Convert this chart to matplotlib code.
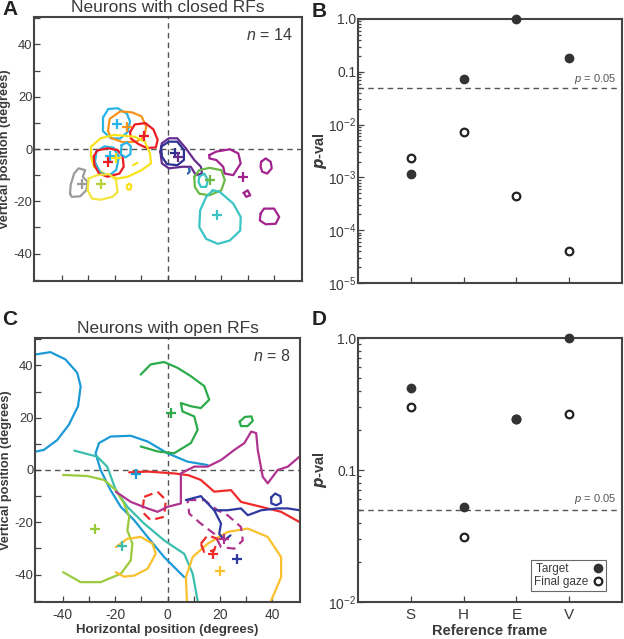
import matplotlib
matplotlib.use("Agg")
import matplotlib.pyplot as plt
from matplotlib.ticker import MultipleLocator, NullFormatter, LogLocator

plt.rcParams['font.family'] = ['Liberation Sans', 'DejaVu Sans']
plt.rcParams['mathtext.fontset'] = 'custom'
plt.rcParams['mathtext.rm'] = 'Liberation Sans'
plt.rcParams['mathtext.it'] = 'Liberation Sans:italic'
plt.rcParams['mathtext.bf'] = 'Liberation Sans:bold'

TXT = '#3a3a3a'
SP = '#444444'

# ---------------- data: panel A (closed RFs) ----------------
a_cyan_top = [(-24.5, 12), (-22.5, 15.3), (-19, 15.6), (-15.5, 13.5), (-14.3, 10.5), (-15.2, 6.5), (-18, 4), (-21.5, 4.1), (-24.5, 6.8), (-24.5, 12)]
a_orange = [(-22.6, 7), (-22, 11.5), (-18, 14.4), (-13.5, 14), (-10, 12.5), (-8.2, 8.6), (-9, 4.5), (-12, 2.8), (-17, 2.6), (-21.5, 4.2), (-22.6, 7)]
a_red_top = [(-14.3, 6.5), (-12.5, 9.4), (-8.5, 9.9), (-5.5, 7.5), (-3.9, 3.5), (-4.6, 0.6), (-8, 0.4), (-11, 1.8), (-14, 4), (-14.3, 6.5)]
a_yellow_big = [(-29, 0.9), (-25.4, 4.1), (-20.3, 5.4), (-12.6, 4.7), (-8.7, 2.8), (-6.8, -1.7), (-6.4, -5.5), (-10, -8.1), (-15.1, -10.6), (-19, -11.3), (-24.1, -9.4), (-27.9, -6.8), (-29, -2.9), (-29, 0.9)]
a_yellow_dash = [(-13.2, -6.2), (-11.5, -5.3)]
a_yellow_small = [(-15.5, -14), (-14.5, -13.2), (-13.8, -14), (-14.2, -15.6), (-15.3, -15.4), (-15.5, -14)]
a_red_low = [(-28, -2.9), (-26.7, -0.6), (-22.8, 0.3), (-19, -0.4), (-17.1, -2.9), (-16.7, -6.8), (-18.3, -9.4), (-22.8, -10.6), (-26, -9.4), (-27.7, -6.2), (-28, -2.9)]
a_cyan_low = [(-27, -1), (-24, 1), (-20.5, 0.5), (-18.5, -3), (-19.5, -8), (-22, -10), (-25.5, -9.2), (-27.5, -5), (-27, -1)]
a_cyan_mid = [(-17.5, 1.5), (-15.5, 2.5), (-14, 1), (-14.2, -2), (-16, -3.2), (-17.8, -2), (-17.5, 1.5)]
a_gray = [(-36.9, -17.1), (-36.7, -13.8), (-35.4, -9.4), (-33.7, -7.4), (-31.2, -8.1), (-32.1, -10.6), (-30.3, -12.6), (-30.8, -15.8), (-33.1, -18.1), (-36.3, -18.3), (-36.9, -17.1)]
a_yellow_low = [(-29.9, -11.3), (-26.7, -10), (-22.2, -9.6), (-19.6, -11.9), (-19, -16.4), (-20.9, -18.3), (-25.4, -19.4), (-28.6, -19), (-30.3, -15.8), (-29.9, -11.3)]
a_navy = [(-2.6, 0.9), (0.3, 2.8), (3.5, 2.8), (6, -0.4), (6, -4.2), (3.5, -6.2), (-0.4, -5.8), (-2.3, -2.9), (-2.6, 0.9)]
a_purple = [(-2.9, -1), (-2.3, 2.2), (0.3, 4.1), (3.5, 4.1), (6.7, 0.3), (9.9, -4.2), (12.4, -6.8), (12.8, -9.4), (10.5, -10), (8.6, -6.8), (5.4, -6.8), (0.3, -7.4), (-2.3, -5.5), (-2.9, -1)]
a_blue_dash = [(7.9, -7.4), (8.2, -8.5), (7.5, -9.4)]
a_green = [(9.9, -10.6), (11.8, -8.1), (15.6, -7.2), (20.1, -8.1), (21.4, -11.9), (20.1, -15.8), (15.6, -17.7), (11.8, -17.1), (10.1, -14.5), (9.9, -10.6)]
a_cyan_right = [(11.8, -10.6), (13.7, -9.4), (15, -11.9), (14.4, -14.5), (12.4, -14.5), (11.5, -12.6), (11.8, -10.6)]
a_teal = [(16.9, -15.8), (19.5, -16.4), (24.6, -20.9), (27.4, -26), (27.2, -31.2), (23.3, -35), (18.8, -36.3), (14.4, -34.4), (11.8, -29.9), (12.1, -23.5), (14.4, -18.3), (16.9, -15.8)]
a_mag1 = [(15.6, -2.3), (18.2, -1), (23.3, -0.1), (26.5, -1.7), (27.4, -5.5), (24.6, -10), (21.4, -9.4), (20.8, -6.8), (18.2, -4.2), (15.6, -3.6), (15.6, -2.3)]
a_mag2 = [(35.1, -4.9), (36.8, -3.6), (38.7, -4.9), (39.1, -7.4), (37.4, -9.4), (35.5, -8.7), (34.9, -6.8), (35.1, -4.9)]
a_mag3 = [(28.5, -16.8), (30, -15.8), (31, -17.7), (29.5, -18.3), (28.5, -16.8)]
a_mag4 = [(34.9, -24.7), (36.2, -22.8), (40, -22.8), (41.9, -26), (40.6, -28.6), (36.8, -28.8), (34.6, -27.3), (34.9, -24.7)]

a_cross_x = [-19.2, -15.5, -9.2, -21.8, -22.6, -19.5, -32.4, -25.4, 2.6, 3.8, 15.9, 18.6, 28.2]
a_cross_y = [9.6, 8.6, 5.0, -2.7, -5.1, -3.5, -13.2, -13.2, -1.7, -2.9, -11.9, -25.4, -10.6]

# ---------------- data: panel C (open RFs) ----------------
c_blue1 = [(-50.3, 44.2), (-44.6, 45.1), (-38.9, 42.3), (-34.4, 37.2), (-33.1, 32), (-34.1, 24.4), (-37.6, 17.3), (-42, 11.5), (-47.1, 7.7), (-49.9, 7.1)]
c_blue2 = [(15.3, 1.9), (7.6, 3.2), (0, 6.4), (-7.6, 10.9), (-14, 13.1), (-21.7, 12.8), (-26.1, 10.3), (-27.4, 6.4), (-25.5, 0), (-21.7, -7.7), (-17.8, -14.1), (-12.7, -19.2), (-7.6, -25.6), (-1.3, -33.3), (6.4, -41)]
c_teal = [(-35.5, 7.4), (-26.8, 5.1), (-23, 1.3), (-19.7, -7.7), (-15.3, -14.1), (-8.9, -20.5), (-1.3, -26.9), (6.4, -32.1), (9.6, -39.7), (11.5, -50)]
c_green = [(-10.2, 36.5), (-6.4, 40.4), (-1.3, 41.3), (3.8, 39.1), (8.9, 35.9), (14, 32.1), (15.9, 26.9), (12.7, 23.7), (8.9, 24.4), (5.1, 25.6), (5.7, 22.4), (10.2, 20.5), (11.5, 15.4), (8.9, 10.3), (2.5, 6.4), (-3.8, 7.1), (-10.2, 9)]
c_green_loop = [(27.5, 18.5), (29.5, 20.3), (32, 20.5), (32.5, 18.8), (30.5, 16.8), (28, 16.8), (27.5, 18.5)]
c_ygreen = [(-39.8, -1.9), (-30.6, -2.3), (-24.2, -3.8), (-19.7, -7.7), (-16.6, -12.8), (-14.6, -17.9), (-15.3, -23.1), (-13.4, -28.2), (-14, -34.6), (-17.8, -39.7), (-25.5, -42.9), (-33.1, -42.9), (-39.8, -39.1)]
c_orange1 = [(-19.7, -29.5), (-15.3, -26.3), (-10.2, -25.6), (-5.7, -28.2), (-4.5, -32.1), (-7.6, -37.8), (-12.7, -40.4), (-16.6, -40.8), (-19.7, -39.1)]
c_orange2 = [(7.4, -50), (7, -41), (9.6, -33.3), (15.3, -28.2), (22.9, -23.7), (30.6, -22.4), (38.2, -25.6), (43.3, -33.3), (43.3, -41), (39.5, -50)]
c_red = [(-14.6, -0.9), (-7.6, -0.6), (2.5, -1.3), (8, -2), (12.7, -3.8), (17.8, -8.3), (24.2, -7.7), (28, -12.2), (35.7, -14.1), (43.3, -16), (50.3, -19.9)]
c_red_dash1 = [(-8.9, -10.3), (-3.8, -8.3), (-0.6, -11.5), (-1.3, -17.9), (-6.4, -19.2), (-9.6, -16), (-8.9, -10.3)]
c_red_dash2 = [(12.7, -28.2), (15.3, -25), (19.1, -26.3), (17.8, -30.8), (14, -31.4), (12.7, -28.2)]
c_mag = [(-19.7, -8.3), (-14, -12.2), (-7.6, -14.7), (-3.8, -16), (0, -14.1), (5.1, -12.8), (5.1, -1.3), (10.2, 1.3), (15.3, 1.3), (20.4, 3.8), (25.5, 7.7), (29.3, 10.3), (31.9, 14.7), (33.8, 14.1), (34.4, 7.7), (36.3, -2.6), (38.2, -5.1), (42, 0), (45.9, 1.3), (50.3, 5.1)]
c_mag_dash = [(7.6, -11.5), (14, -11.5), (19.1, -15.4), (22.9, -17.3), (28, -21.8), (28.7, -26.9), (25.5, -30.1), (20.4, -29.5), (17.8, -24.4), (12.7, -20.5), (8.3, -16.7), (7.6, -11.5)]
c_navy = [(7, -11.5), (12.7, -10), (17.8, -15.4), (22.9, -15.4), (28, -14.7), (30.6, -17.3), (35.7, -15.4), (42, -14.7), (45.9, -14.7), (50.3, -15.4)]
c_navy_b = [(17.8, -15.4), (20.4, -20.5), (19.7, -24.4), (21.7, -26.9), (24, -25)]
c_navy_loop = [(39.5, -10.5), (41, -9), (43, -10), (43.3, -12.5), (41.5, -13.5), (39.6, -12.8), (39.5, -10.5)]

c_cross_x = [-11.9, 1.3, -27.6, -17.5, 20.0, 17.2, 21.7, 26.5]
c_cross_y = [-1.5, 21.8, -22.4, -29.1, -38.7, -32.1, -26.3, -34.0]

# ---------------- data: panels B, D ----------------
frames = ['S', 'H', 'E', 'V']
b_target = [1.16e-3, 0.074, 1.0, 0.183]
b_gaze = [2.35e-3, 7.1e-3, 4.4e-4, 4.1e-5]
d_target = [0.42, 0.052, 0.245, 1.0]
d_gaze = [0.30, 0.031, 0.245, 0.266]
p_thresh = 0.05

# ---------------- styles ----------------
CY, OR, RD, YL, GR = '#27b4e6', '#f7941d', '#ed1c24', '#f8e21b', '#9a9a9a'
YG, YL2, NV, PU, GN = '#b5d334', '#f2e53c', '#2e3192', '#662d91', '#6ab845'
TL, MG = '#3cc4c4', '#a3238e'

a_lines = [
    (a_cyan_top, CY), (a_orange, OR), (a_red_top, RD), (a_yellow_big, YL), (a_yellow_dash, YL),
    (a_yellow_small, YL), (a_cyan_low, CY), (a_red_low, RD), (a_cyan_mid, CY), (a_gray, GR),
    (a_yellow_low, YL2), (a_purple, PU), (a_navy, NV), (a_blue_dash, '#2a5fb0'), (a_green, GN),
    (a_cyan_right, TL), (a_teal, TL), (a_mag1, MG), (a_mag2, MG), (a_mag3, MG), (a_mag4, MG)]
a_cross_c = [CY, OR, RD, CY, RD, YL, GR, YG, NV, PU, GN, TL, MG]

SB, CTL, CGN, CYG, COR, CRD, CMG, CNV = '#1c9ad6', '#3bbfad', '#2bab4a', '#9acb3c', '#fbc02d', '#ee2a2a', '#b0348f', '#2e3a9f'
c_lines = [
    (c_blue1, SB, '-'), (c_blue2, SB, '-'), (c_teal, CTL, '-'), (c_green, CGN, '-'), (c_green_loop, CGN, '-'),
    (c_ygreen, CYG, '-'), (c_orange1, COR, '-'), (c_orange2, COR, '-'), (c_red, CRD, '-'),
    (c_red_dash1, CRD, '--'), (c_red_dash2, CRD, '--'), (c_mag, CMG, '-'), (c_mag_dash, CMG, '--'),
    (c_navy, CNV, '-'), (c_navy_b, CNV, '-'), (c_navy_loop, CNV, '-')]
c_cross_c = [SB, CGN, CYG, CTL, COR, CRD, CMG, CNV]

W, H = 624, 639
fig = plt.figure(figsize=(W / 100, H / 100), dpi=100)

def rect(l, t, r, b):
    return [l / W, 1 - b / H, (r - l) / W, (b - t) / H]

def style(ax, lsize=10):
    for s in ax.spines.values():
        s.set_linewidth(1.5)
        s.set_color(SP)
    ax.tick_params(which='both', direction='in', colors=SP, labelcolor=TXT, labelsize=lsize, pad=1, width=0.9)
    ax.tick_params(which='major', length=4)
    ax.tick_params(which='minor', length=2.5)

def rf_panel(ax, lines, cx, cy, cc, title, ntxt, xlabels):
    for item in lines:
        pts, col = item[0], item[1]
        ls = item[2] if len(item) > 2 else '-'
        xs = [p[0] for p in pts]
        ys = [p[1] for p in pts]
        ax.plot(xs, ys, color=col, lw=1.6, ls=ls, solid_capstyle='round', solid_joinstyle='round',
                dashes=(4, 2.5) if ls == '--' else (None, None))
    for x, y, c in zip(cx, cy, cc):
        ax.plot([x], [y], marker='+', color=c, ms=7, mew=1.6, ls='none')
    ax.axhline(0, color='#555555', lw=1, ls=(0, (4, 3)), zorder=0)
    ax.axvline(0, color='#555555', lw=1, ls=(0, (4, 3)), zorder=0)
    ax.set_xlim(-50.5, 50.5)
    ax.set_ylim(-50.5, 50.5)
    style(ax, 9.3)
    ax.yaxis.set_minor_locator(MultipleLocator(10))
    ax.set_yticks([-40, -20, 0, 20, 40])
    ax.set_yticklabels(['-40', '-20', '0', '20', '40'])
    ax.tick_params(axis='y', which='minor', length=4)
    ax.set_xticks([-40, -30, -20, -10, 0, 10, 20, 30, 40])
    if xlabels:
        ax.set_xticklabels(['-40', '', '-20', '', '0', '', '20', '', '40'])
        ax.tick_params(axis='x', pad=4, labelsize=10)
        ax.set_xlabel('Horizontal position (degrees)', fontsize=9.5, fontweight='bold', color=TXT)
        ax.xaxis.set_label_coords(0.5, -0.085)
    else:
        ax.set_xticklabels([])
    ax.set_ylabel('Vertical position (degrees)', fontsize=9.2, fontweight='bold', color=TXT)
    ax.yaxis.set_label_coords(-0.085, 0.5)
    ax.text(0.5, 1.02, title, transform=ax.transAxes, ha='center', va='baseline', fontsize=12.5, color=TXT)
    ax.text(0.965, 0.93, ntxt, transform=ax.transAxes, ha='right', va='center', fontsize=11.5, color=TXT)

axA = fig.add_axes(rect(34, 17, 302, 281))
rf_panel(axA, a_lines, a_cross_x, a_cross_y, a_cross_c, 'Neurons with closed RFs', r'$n$ = 14', False)
axC = fig.add_axes(rect(35, 338, 300, 602))
rf_panel(axC, c_lines, c_cross_x, c_cross_y, c_cross_c, 'Neurons with open RFs', r'$n$ = 8', True)

def p_panel(ax, tgt, gz, ylo, yticks, ylabels, xlabels, legend):
    pos = list(range(1, len(frames) + 1))
    ax.set_yscale('log')
    ax.axhline(p_thresh, color='#555555', lw=1, ls=(0, (4, 3)), zorder=0)
    ax.plot(pos, tgt, 'o', ms=6, color='#333333', mec='#333333', ls='none', label='Target      ', zorder=3, clip_on=False)
    ax.plot(pos, gz, 'o', ms=5.5, mfc='white', mec='#222222', mew=1.6, ls='none', label='Final gaze', zorder=2, clip_on=False)
    ax.set_xlim(0, 5)
    ax.set_ylim(ylo, 1.0)
    style(ax)
    ax.yaxis.set_minor_locator(LogLocator(base=10, subs=range(2, 10)))
    ax.yaxis.set_minor_formatter(NullFormatter())
    ax.set_yticks(yticks)
    ax.set_yticklabels(ylabels)
    ax.set_xticks(pos)
    if xlabels:
        ax.set_xticklabels(frames, fontsize=11)
        ax.tick_params(axis='x', pad=4)
        ax.set_xlabel('Reference frame', fontsize=10.5, fontweight='bold', color=TXT)
        ax.xaxis.set_label_coords(0.5, -0.082)
    else:
        ax.set_xticklabels([])
    ax.set_ylabel(r'$\mathbfit{p}$-val', fontsize=10.5, fontweight='bold', color=TXT)
    ax.yaxis.set_label_coords(-0.11, 0.5)
    ax.text(0.98, p_thresh * 1.06, r'$p$ = 0.05', transform=ax.get_yaxis_transform(), ha='right', va='bottom', fontsize=8, color='#555555')
    if legend:
        lg = ax.legend(loc='lower right', markerfirst=False, fontsize=8.5, frameon=True, fancybox=False,
                       borderpad=0.25, handletextpad=0.5, handlelength=0.8, labelspacing=0.1,
                       borderaxespad=0, bbox_to_anchor=(0.94, 0.04))
        lg.get_frame().set_edgecolor('#444444')
        lg.get_frame().set_linewidth(0.8)
        for t in lg.get_texts():
            t.set_color(TXT)

axB = fig.add_axes(rect(358, 19, 622, 283))
p_panel(axB, b_target, b_gaze, 1e-5, [1e-5, 1e-4, 1e-3, 1e-2, 0.1, 1.0],
        [r'$10^{-5}$', r'$10^{-4}$', r'$10^{-3}$', r'$10^{-2}$', '0.1', '1.0'], False, False)
axD = fig.add_axes(rect(358, 338, 622, 602))
p_panel(axD, d_target, d_gaze, 1e-2, [1e-2, 0.1, 1.0], [r'$10^{-2}$', '0.1', '1.0'], True, True)

for lab, x, y in [('A', 2, 15), ('B', 312, 17), ('C', 2, 325), ('D', 312, 325)]:
    fig.text(x / W, 1 - y / H, lab, fontsize=15, fontweight='bold', color='#222222', ha='left', va='baseline')

fig.savefig('out.png', dpi=100)
